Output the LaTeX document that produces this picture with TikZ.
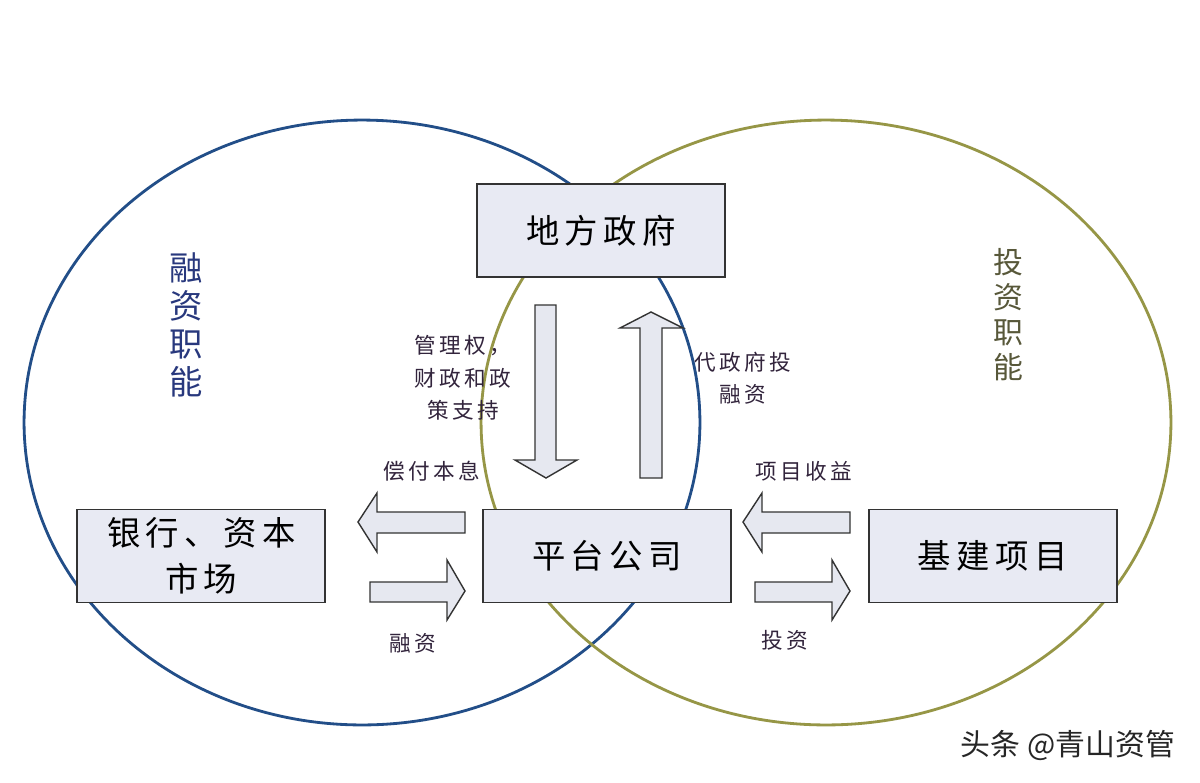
\documentclass[tikz,border=0pt]{standalone}
\usepackage{fontspec}
\setmainfont{Noto Sans CJK SC}
\newfontfamily\spacedcjk[LetterSpace=16]{Noto Sans CJK SC}
\usepackage{xcolor}
\usepackage{tikz}
\usetikzlibrary{positioning}
\definecolor{boxfill}{RGB}{232,234,243}
\definecolor{arrowfill}{RGB}{230,232,240}
\definecolor{ringblue}{RGB}{34,78,136}
\definecolor{ringolive}{RGB}{150,150,70}
\definecolor{textblue}{RGB}{40,56,125}
\definecolor{textolive}{RGB}{88,88,58}
\definecolor{labeltext}{RGB}{50,36,60}

\begin{document}
\begin{tikzpicture}[
    x=0.02cm, y=-0.02cm,
    node distance=3.12cm,
    unitbox/.style={rectangle, draw=black!80, line width=1pt, fill=boxfill, align=center, minimum width=4.96cm, minimum height=1.86cm, inner sep=0pt, font=\spacedcjk\fontsize{19}{26}\selectfont},
    ring/.style={line width=1.6pt},
    blockarrow/.style={draw=black!80, line width=0.8pt, fill=arrowfill, line join=miter},
    flowlabel/.style={align=center, inner sep=0pt, text=labeltext, font=\spacedcjk\fontsize{12.3}{18.5}\selectfont},
    rolelabel/.style={align=center, inner sep=0pt}
]
\useasboundingbox (0,0) rectangle (1200,782);
\fill[white] (0,0) rectangle (1200,782);

% the two functions
\draw[ring, ringblue] (362,422.5) ellipse [x radius=6.76cm, y radius=6.05cm];
\draw[ring, ringolive] (826,422.5) ellipse [x radius=6.9cm, y radius=6.05cm];

\node[rolelabel, text=textblue, font=\fontsize{19}{21.6}\selectfont] (finrole) at (186,325) {融\\资\\职\\能};
\node[rolelabel, text=textolive, font=\fontsize{17}{19.9}\selectfont] (invrole) at (1008,315) {投\\资\\职\\能};

% boxes
\node[unitbox] (platform) at (607,556) {平台公司};
\node[unitbox, left=of platform] (bank) {银行、资本\\市场};
\node[unitbox, right=2.72cm of platform] (infra) {基建项目};
\node[unitbox, above=4.62cm of platform, xshift=-0.12cm] (gov) {地方政府};

% flows
\draw[blockarrow] (535,305) -- (556,305) -- (556,460) -- (577,460) -- (546,478) -- (515,460) -- (535,460) -- cycle;
\draw[blockarrow] (640,478) -- (662,478) -- (662,328) -- (683,328) -- (651,312) -- (620,328) -- (640,328) -- cycle;
\draw[blockarrow] (465,512) -- (377,512) -- (377,493) -- (358,522) -- (377,552) -- (377,533) -- (465,533) -- cycle;
\draw[blockarrow] (370,582) -- (447,582) -- (447,560) -- (465,591) -- (447,620) -- (447,602) -- (370,602) -- cycle;
\draw[blockarrow] (850,512) -- (762,512) -- (762,493) -- (743,522) -- (762,552) -- (762,533) -- (850,533) -- cycle;
\draw[blockarrow] (755,582) -- (832,582) -- (832,560) -- (850,591) -- (832,620) -- (832,602) -- (755,602) -- cycle;

\node[flowlabel] (support) at (463,378) {管理权，\\财政和政\\策支持};
\node[flowlabel] (proxy) at (743,378) {代政府投\\融资};
\node[flowlabel] (repay) at (432,471) {偿付本息};
\node[flowlabel] (returns) at (804,471) {项目收益};
\node[flowlabel] (raise) at (413,643) {融资};
\node[flowlabel] (invest) at (785,640) {投资};

\node[text=black!85, font=\fontsize{17}{19}\selectfont] (mark) at (1068,745) {头条 @青山资管};
\end{tikzpicture}
\end{document}
